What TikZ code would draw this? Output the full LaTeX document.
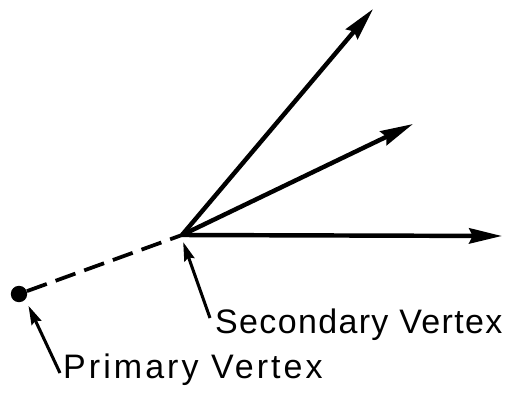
\documentclass[tikz,border=0pt]{standalone}
\usepackage{fontspec}
\setmainfont{Liberation Sans}
\usetikzlibrary{positioning,arrows.meta}
\tikzset{
  track/.style={-{Stealth[length=28pt,width=13pt,inset=3pt]}, line width=3.8pt},
  pointer/.style={-{Stealth[length=16pt,width=9pt,inset=2pt]}, line width=2.6pt},
  flight/.style={line width=3.2pt, dash pattern=on 18pt off 8pt},
  vtxdot/.style={circle, fill, inner sep=0pt, minimum size=14pt},
  vlabel/.style={font=\fontsize{29}{33}\selectfont\addfontfeature{LetterSpace=#1}, anchor=base west, inner sep=0pt},
  vlabel/.default=4,
}
\begin{document}
\begin{tikzpicture}[x=0.03cm, y=-0.03cm]
  \useasboundingbox (0,0) rectangle (507,397);
  \node[vtxdot]     (prim) at (19,294) {};
  \coordinate       (sec)  at (182,235);
  \coordinate       (t1)   at (373,9);
  \coordinate       (t2)   at (413,124);
  \coordinate       (t3)   at (502,236);
  % decay tracks
  \draw[track] (sec) -- (t1);
  \draw[track] (sec) -- (t2);
  \draw[track] (sec) -- (t3);
  \draw[flight] (prim) -- (sec);
  % labels
  \node[vlabel]   (seclab)  at (215,333) {Secondary Vertex};
  \node[vlabel=9] (primlab) at (63,378)  {Primary Vertex};
  \coordinate (sectail)  at (210,318);
  \coordinate (primtail) at (60,373);
  \draw[pointer] (sectail) -- ([xshift=1pt,yshift=-6pt]sec);
  \draw[pointer] (primtail) -- ([xshift=3pt,yshift=-5pt]prim.south east);
\end{tikzpicture}
\end{document}
